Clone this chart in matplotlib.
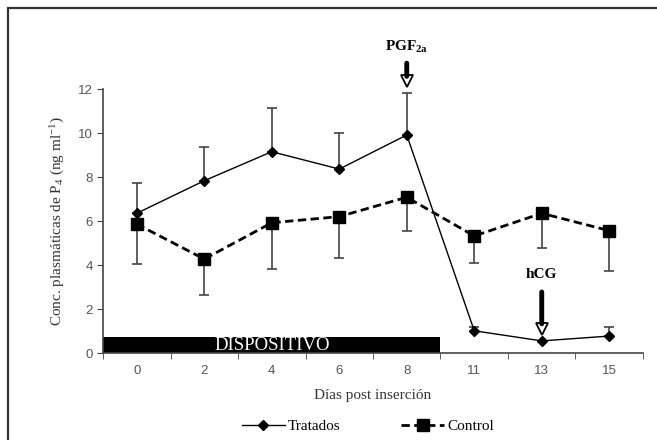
import matplotlib
matplotlib.use("Agg")
import matplotlib.pyplot as plt
from matplotlib.patches import Rectangle

# -----------------------------
# Datos
# -----------------------------
dias = ["0", "2", "4", "6", "8", "11", "13", "15"]
tratados = [6.35, 7.83, 9.15, 8.36, 9.91, 1.01, 0.55, 0.77]
tratados_ee = [1.39, 1.52, 1.97, 1.65, 1.92, 0.19, 0.0, 0.43]
control = [5.86, 4.27, 5.92, 6.20, 7.08, 5.32, 6.35, 5.56]
control_ee = [1.81, 1.63, 2.12, 1.90, 1.53, 1.22, 1.59, 1.82]

dispositivo_fin = 4.5   # fin del dispositivo (entre día 8 y 11)
dispositivo_alto = 0.75

serif = ["Liberation Serif", "DejaVu Serif"]
sans = ["Liberation Sans", "DejaVu Sans"]

plt.rcParams["mathtext.fontset"] = "custom"
plt.rcParams["mathtext.rm"] = "Liberation Serif"
plt.rcParams["mathtext.it"] = "Liberation Serif:italic"
plt.rcParams["mathtext.bf"] = "Liberation Serif:bold"

x = list(range(len(dias)))

fig = plt.figure(figsize=(6.57, 4.40), dpi=100)
ax = fig.add_axes([103 / 657, 1 - 353 / 440, 540 / 657, 264 / 440])

# marco exterior de la figura
fig.patches.append(Rectangle((8 / 657, -0.05), 1.1, 1.05 - 8 / 440,
                             transform=fig.transFigure, fill=False,
                             ec="#333333", lw=1.6))

# barra del dispositivo
ax.bar(-0.5, dispositivo_alto, width=dispositivo_fin + 0.5, align="edge",
       color="black", zorder=2)
ax.text((dispositivo_fin - 0.5) / 2, dispositivo_alto / 2 - 0.02, "DISPOSITIVO",
        color="white", ha="center", va="center", fontsize=13.5,
        family=serif, zorder=3)

# barras de error
ax.errorbar(x, tratados, yerr=[[0] * len(x), tratados_ee], fmt="none",
            ecolor="#444444", elinewidth=1.2, capsize=3.5, capthick=1.2,
            zorder=3)
ax.errorbar(x, control, yerr=[control_ee, [0] * len(x)], fmt="none",
            ecolor="#444444", elinewidth=1.2, capsize=3.5, capthick=1.2,
            zorder=3)

# series
ax.plot(x, tratados, color="black", lw=1.0, marker="D", ms=5.5,
        label="Tratados", zorder=4)
ax.plot(x, control, color="black", lw=2.0, ls=(0, (3, 1.6)), marker="s",
        ms=8, label="Control", zorder=4)

# flechas PGF2a y hCG
i_pgf = dias.index("8")
i_hcg = dias.index("13")
ax.annotate("", xy=(i_pgf, 12.45), xytext=(i_pgf, 13.3),
            arrowprops=dict(arrowstyle="-", lw=3.5, color="black"),
            annotation_clip=False)
ax.plot(i_pgf, 12.35, marker="v", ms=8, mfc="white", mec="black", mew=1.3,
        clip_on=False)
ax.text(i_pgf, 13.9, r"PGF$_{\mathbf{2a}}$", ha="center", va="center",
        fontsize=11, fontweight="bold", family=serif)

ax.annotate("", xy=(i_hcg, 1.2), xytext=(i_hcg, 2.9),
            arrowprops=dict(arrowstyle="-", lw=3.5, color="black"))
ax.plot(i_hcg, 1.1, marker="v", ms=8, mfc="white", mec="black", mew=1.3)
ax.text(i_hcg, 3.55, "hCG", ha="center", va="center", fontsize=11,
        fontweight="bold", family=serif)

# ejes
ax.set_xlim(-0.5, len(dias) - 0.5)
ax.set_ylim(0, 12)
ax.set_yticks(range(0, 13, 2))
ax.set_xticks(x)
ax.set_xticklabels(dias)
ax.set_xticks([i - 0.5 for i in range(len(dias) + 1)], minor=True)
ax.tick_params(axis="x", which="major", length=0, pad=9)
ax.tick_params(axis="x", which="minor", length=4, direction="out",
               color="#444444")
ax.tick_params(axis="y", length=4, direction="out", color="#444444")
for lab in ax.get_xticklabels() + ax.get_yticklabels():
    lab.set_family(sans)
    lab.set_fontsize(9.5)
    lab.set_color("#555555")

for s in ["top", "right"]:
    ax.spines[s].set_visible(False)
for s in ["left", "bottom"]:
    ax.spines[s].set_color("#444444")
    ax.spines[s].set_linewidth(1.2)

ax.set_xlabel("Días post inserción", family=serif, fontsize=11,
              color="#333333", labelpad=8)
ax.set_ylabel("Conc. plasmáticas de P$_4$ (ng ml$^{-1}$)", family=serif,
              fontsize=11, color="#333333", labelpad=8)

fig.legend(loc="center", bbox_to_anchor=(368 / 657, 1 - 426 / 440),
           ncol=2, frameon=False, prop={"family": serif, "size": 11},
           handlelength=2.8, columnspacing=4, handletextpad=0.2)

fig.savefig("out.png", dpi=100)
